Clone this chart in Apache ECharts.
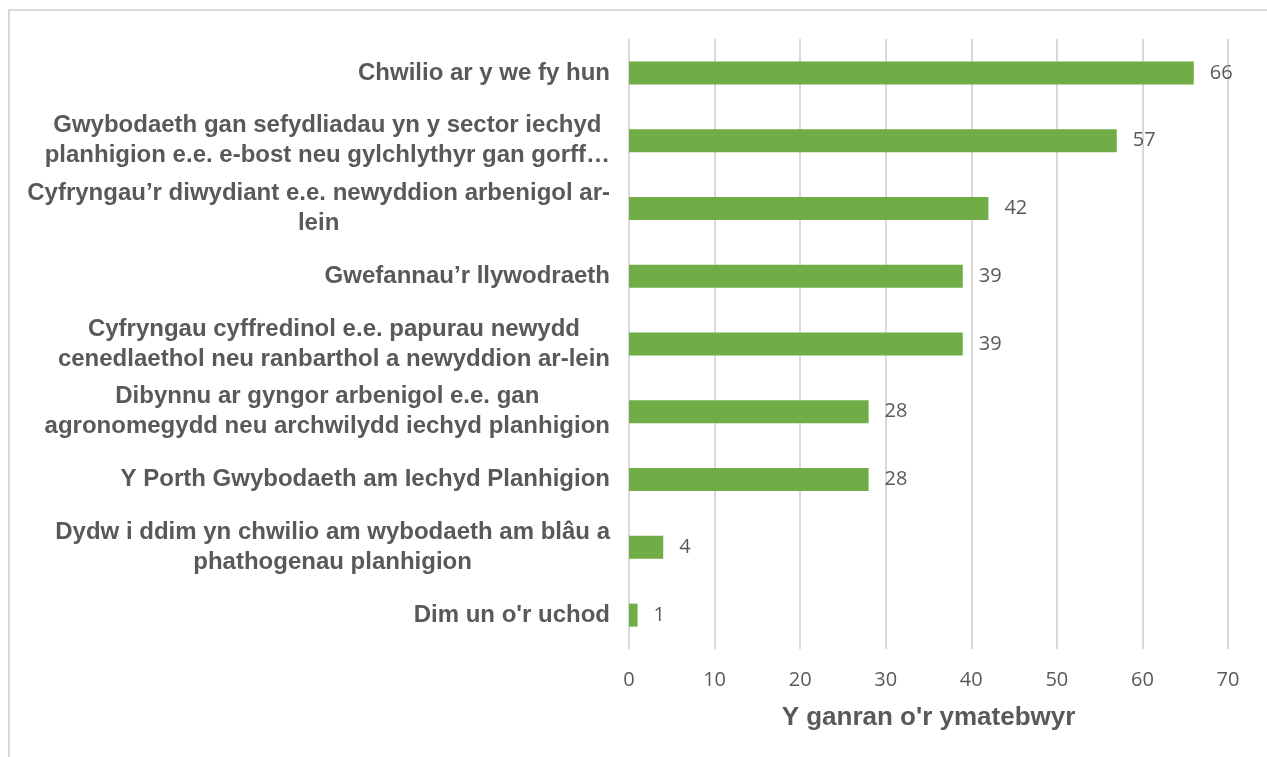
<!DOCTYPE html>
<html>
<head>
<meta charset="utf-8">
<script src="https://cdn.jsdelivr.net/npm/echarts@6/dist/echarts.min.js"></script>
<style>
  html, body { margin: 0; padding: 0; background: #fff; }
  #chart { width: 1267px; height: 757px; }
</style>
</head>
<body>
<div id="chart"></div>
<script>
    const categories = [
        'Chwilio ar y we fy hun',
        'Gwybodaeth gan sefydliadau yn y sector iechyd\nplanhigion e.e. e-bost neu gylchlythyr gan gorff…',
        'Cyfryngau’r diwydiant e.e. newyddion arbenigol ar-\nlein',
        'Gwefannau’r llywodraeth',
        'Cyfryngau cyffredinol e.e. papurau newydd\ncenedlaethol neu ranbarthol a newyddion ar-lein',
        'Dibynnu ar gyngor arbenigol e.e. gan\nagronomegydd neu archwilydd iechyd planhigion',
        'Y Porth Gwybodaeth am Iechyd Planhigion',
        'Dydw i ddim yn chwilio am wybodaeth am blâu a\nphathogenau planhigion',
        "Dim un o'r uchod"
    ];
    const percentages = [66, 57, 42, 39, 39, 28, 28, 4, 1];
    const xTicks = { min: 0, max: 70, interval: 10 };
    const axisTitle = "Y ganran o'r ymatebwyr";

    const chart = echarts.init(document.getElementById('chart'));

    // wrap each line as a centred rich fragment so multi-line labels centre like Excel
    function labelFormatter(value) {
        return value.split('\n').map(line => '{c|' + line + '}').join('\n');
    }

    chart.setOption({
        animation: false,
        backgroundColor: '#fff',
        graphic: [{
            type: 'rect',
            shape: { x: 9, y: 10, width: 1400, height: 900 },
            style: { fill: 'none', stroke: '#d9d9d9', lineWidth: 2 },
            silent: true
        }],
        grid: { left: 629, right: 39, top: 39, bottom: 108 },
        xAxis: {
            type: 'value',
            min: xTicks.min,
            max: xTicks.max,
            interval: xTicks.interval,
            axisLine: { show: false },
            axisTick: { show: false },
            axisLabel: {
                color: '#595959',
                fontFamily: 'Open Sans',
                fontSize: 20,
                margin: 21
            },
            splitLine: { lineStyle: { color: '#d9d9d9', width: 2 } },
            name: axisTitle,
            nameLocation: 'middle',
            nameGap: 56,
            nameTextStyle: {
                color: '#595959',
                fontFamily: 'Liberation Sans',
                fontWeight: 'bold',
                fontSize: 26
            }
        },
        yAxis: {
            type: 'category',
            data: categories,
            inverse: true,
            axisLine: { show: false },
            axisTick: { show: false },
            axisLabel: {
                margin: 19,
                align: 'right',
                formatter: labelFormatter,
                rich: {
                    c: {
                        align: 'center',
                        color: '#595959',
                        fontFamily: 'Liberation Sans',
                        fontWeight: 'bold',
                        fontSize: 24,
                        lineHeight: 30
                    }
                }
            }
        },
        series: [{
            type: 'bar',
            data: percentages,
            barWidth: 23,
            itemStyle: { color: '#70ad47' },
            label: {
                show: true,
                position: 'right',
                distance: 16,
                color: '#595959',
                fontFamily: 'Open Sans',
                fontSize: 20
            }
        }]
    });
</script>
</body>
</html>
